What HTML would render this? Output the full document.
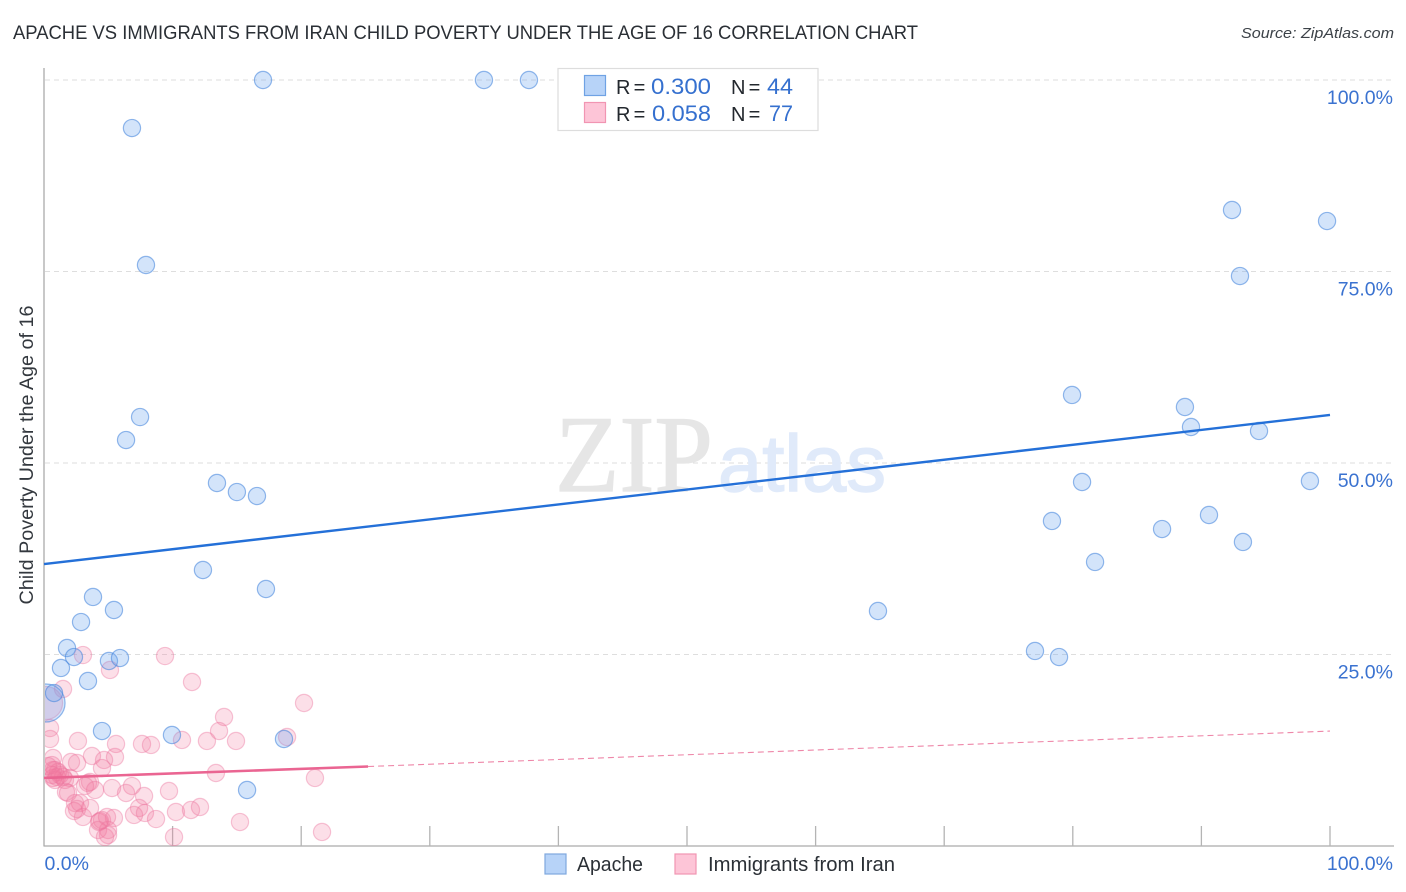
<!DOCTYPE html>
<html lang="en">
<head>
<meta charset="utf-8">
<title>Apache vs Immigrants from Iran Child Poverty Correlation Chart</title>
<style>
html,body{margin:0;padding:0;background:#fff;width:1406px;height:892px;overflow:hidden}
svg{display:block;font-family:"Liberation Sans",sans-serif}
</style>
</head>
<body>
<svg id="chart" width="1406" height="892" viewBox="0 0 1406 892" xmlns="http://www.w3.org/2000/svg">
  <defs><clipPath id="plot-clip"><rect x="45" y="60" width="1349" height="786"/></clipPath></defs>
  <text x="13" y="39" font-size="19" fill="#2a2f35" textLength="905" lengthAdjust="spacingAndGlyphs">APACHE VS IMMIGRANTS FROM IRAN CHILD POVERTY UNDER THE AGE OF 16 CORRELATION CHART</text>
  <text x="1394" y="38" font-size="15" font-style="italic" fill="#3c4248" text-anchor="end" textLength="153" lengthAdjust="spacingAndGlyphs">Source: ZipAtlas.com</text>
  <text transform="translate(33,455) rotate(-90)" font-size="19" fill="#33383e" text-anchor="middle" textLength="299" lengthAdjust="spacingAndGlyphs">Child Poverty Under the Age of 16</text>
  <g id="grid"></g>
  <g>
    <text x="555" y="491" font-family="'Liberation Serif',serif" font-size="109" fill="#e6e6e6" stroke="#e6e6e6" stroke-width="1.2" textLength="158" lengthAdjust="spacingAndGlyphs">ZIP</text>
    <text x="718" y="491" font-size="80" fill="#e0eafa" stroke="#e0eafa" stroke-width="1.4" textLength="168" lengthAdjust="spacingAndGlyphs">atlas</text>
  </g>
  <g id="axes"></g>
  <g id="pink-points" clip-path="url(#plot-clip)"></g>
  <g id="blue-points" clip-path="url(#plot-clip)"></g>
  <g id="trends"></g>
  <g id="labels"></g>

  <g>
    <rect x="558" y="68.500" width="260" height="62" fill="#fff" stroke="#dddddd" stroke-width="1.200"/>
    <rect x="584.500" y="75.500" width="21" height="20" fill="#b7d3f8" stroke="#6fa2e4" stroke-width="1.200"/>
    <rect x="584.500" y="102.500" width="21" height="20" fill="#fdc5d7" stroke="#f195b2" stroke-width="1.200"/>
    <g font-size="20" fill="#23282e" word-spacing="-2.4">
      <text x="616" y="94">R =</text>
      <text x="731" y="94">N =</text>
      <text x="616" y="121">R =</text>
      <text x="731" y="121">N =</text>
    </g>
    <g font-size="22" fill="#3570cf">
      <text x="651" y="94" textLength="60" lengthAdjust="spacingAndGlyphs">0.300</text>
      <text x="767" y="94" textLength="26" lengthAdjust="spacingAndGlyphs">44</text>
      <text x="652" y="121" textLength="59" lengthAdjust="spacingAndGlyphs">0.058</text>
      <text x="769" y="121" textLength="24" lengthAdjust="spacingAndGlyphs">77</text>
    </g>
  </g>

  <g>
    <rect x="545" y="854" width="21" height="20" fill="#b7d3f8" stroke="#7fa8de" stroke-width="1.200"/>
    <text x="577" y="871" font-size="20" fill="#2b3036" textLength="66" lengthAdjust="spacingAndGlyphs">Apache</text>
    <rect x="675" y="854" width="21" height="20" fill="#fdc5d7" stroke="#f195b2" stroke-width="1.200"/>
    <text x="708" y="871" font-size="20" fill="#2b3036" textLength="187" lengthAdjust="spacingAndGlyphs">Immigrants from Iran</text>
  </g>
</svg>
<script>
const blueX = [17.03,34.21,37.71,6.84,92.38,99.77,7.93,93.0,79.94,88.72,7.47,89.19,94.48,6.38,13.45,80.72,98.44,15.0,16.56,78.38,90.59,86.94,93.23,81.73,12.36,17.26,3.81,5.44,64.85,2.88,1.79,77.06,78.93,2.33,5.05,5.91,1.32,3.42,0.78,4.51,9.95,18.66,15.79];
const blueY = [100,100,100,93.73,83.03,81.59,75.85,74.41,58.88,57.31,56.0,54.70,54.18,53.0,47.39,47.52,47.65,46.21,45.69,42.43,43.21,41.38,39.69,37.08,36.03,33.55,32.51,30.81,30.68,29.24,25.85,25.46,24.67,24.67,24.15,24.54,23.24,21.54,19.97,15.01,14.49,13.97,7.31];
const blueLargeX = [0.16];
const blueLargeY = [18.67];
const pinkX = [3.03,9.41,5.13,11.51,1.48,20.22,14.0,13.61,18.90,0.47,0.47,2.64,5.60,7.62,8.32,10.73,12.67,14.93,3.73,5.52,4.67,4.51,2.10,2.57,0.70,0.62,13.37,21.07,0.86,1.01,0.70,1.48,1.09,0.86,1.63,2.02,3.42,3.58,3.19,3.97,5.29,6.84,6.38,7.78,9.72,1.71,1.87,2.41,2.80,2.33,3.03,2.57,3.58,7.39,7.0,7.85,8.71,10.26,11.43,12.13,15.24,21.62,10.11,4.28,4.51,4.90,5.44,4.20,4.98,4.74,4.98,4.35,0.70,1.24,0.62,0.31];
const pinkY = [24.93,24.80,22.98,21.41,20.50,18.67,16.84,15.01,14.23,15.40,13.97,13.71,13.32,13.32,13.19,13.84,13.71,13.71,11.75,11.62,11.23,10.18,10.97,10.84,11.49,10.57,9.53,8.88,9.92,9.01,8.88,9.01,9.66,8.62,8.62,8.88,8.22,8.36,7.83,7.31,7.57,7.83,6.92,6.53,7.18,7.05,6.92,5.61,5.61,4.57,3.79,4.83,4.96,4.96,4.05,4.31,3.52,4.44,4.70,5.09,3.13,1.83,1.17,3.13,3.39,3.79,3.66,2.09,2.09,1.17,1.44,3.26,9.92,9.27,9.27,10.44];
const pinkLargeX = [0.16];
const pinkLargeY = [18.67];
const blueTrendX = [0,100];
const blueTrendY = [36.8,56.27];
const pinkSolidX = [0,25.2];
const pinkSolidY = [8.88,10.38];
const pinkDashX = [25.2,100];
const pinkDashY = [10.38,15.0];
const gridValues = [100,75,50,25];
const yTickLabels = ["100.0%","75.0%","50.0%","25.0%"];
const xTickValues = [10,20,30,40,50,60,70,80,90,100];

const NS = 'http://www.w3.org/2000/svg';
function xScale(v){ return 44 + v * 12.86; }
function yScale(v){ return 846 - v * 7.66; }
function mk(tag, parent, attrs){
  const el = document.createElementNS(NS, tag);
  for (const k in attrs) el.setAttribute(k, attrs[k]);
  document.getElementById(parent).appendChild(el);
  return el;
}

gridValues.forEach(function(v, i){
  const g = mk('line', 'grid', {x1:45, x2:1394, y1:yScale(v), y2:yScale(v), stroke:'#dedede', 'stroke-width':1, 'stroke-dasharray':'5 4'});
  
  
  const t = mk('text', 'labels', {x:1393, y:yScale(v) + 24, 'font-size':19.5, fill:'#3a72d0', 'text-anchor':'end'});
  t.textContent = yTickLabels[i];
  
  
});

const yAxis = mk('line', 'axes', {x1:44, x2:44, y1:68, y2:846.5, stroke:'#aaaaaa', 'stroke-width':1.3});


const xAxis = mk('line', 'axes', {x1:44, x2:1394, y1:846, y2:846, stroke:'#aaaaaa', 'stroke-width':1.3});



xTickValues.forEach(function(v){
  const t = mk('line', 'axes', {x1:xScale(v), x2:xScale(v), y1:826, y2:846, stroke:'#b4b4b4', 'stroke-width':1.3});
  
  
});

const x0 = mk('text', 'labels', {x:44.5, y:870, 'font-size':19.5, fill:'#3a72d0'});
x0.textContent = '0.0%';


const x100 = mk('text', 'labels', {x:1393, y:870, 'font-size':19.5, fill:'#3a72d0', 'text-anchor':'end'});
x100.textContent = '100.0%';



function drawPoints(parent, xs, ys, r, fill, stroke, name){
  xs.forEach(function(v, i){
    const c = mk('circle', parent, {cx:xScale(v), cy:yScale(ys[i]), r:r, fill:fill, stroke:stroke, 'stroke-width':1.2});
    
    
  });
}
const pinkFill = 'rgba(243,120,160,0.24)', pinkStroke = 'rgba(236,120,160,0.42)';
const blueFill = 'rgba(110,165,240,0.30)', blueStroke = 'rgba(70,135,220,0.58)';
drawPoints('pink-points', pinkLargeX, pinkLargeY, 16.5, pinkFill, pinkStroke, 'iran-point-large');
drawPoints('pink-points', pinkX, pinkY, 8.6, pinkFill, pinkStroke, 'iran-point');
drawPoints('blue-points', blueLargeX, blueLargeY, 19, blueFill, blueStroke, 'apache-point-large');
drawPoints('blue-points', blueX, blueY, 8.6, blueFill, blueStroke, 'apache-point');

const tb = mk('line', 'trends', {x1:xScale(blueTrendX[0]), y1:yScale(blueTrendY[0]), x2:xScale(blueTrendX[1]), y2:yScale(blueTrendY[1]), stroke:'#2470d8', 'stroke-width':2.4});


const tp = mk('line', 'trends', {x1:xScale(pinkSolidX[0]), y1:yScale(pinkSolidY[0]), x2:xScale(pinkSolidX[1]), y2:yScale(pinkSolidY[1]), stroke:'#ea6592', 'stroke-width':2.6});


const td = mk('line', 'trends', {x1:xScale(pinkDashX[0]), y1:yScale(pinkDashY[0]), x2:xScale(pinkDashX[1]), y2:yScale(pinkDashY[1]), stroke:'#ee86a8', 'stroke-width':1.1, 'stroke-dasharray':'6 4'});


</script>
</body>
</html>
